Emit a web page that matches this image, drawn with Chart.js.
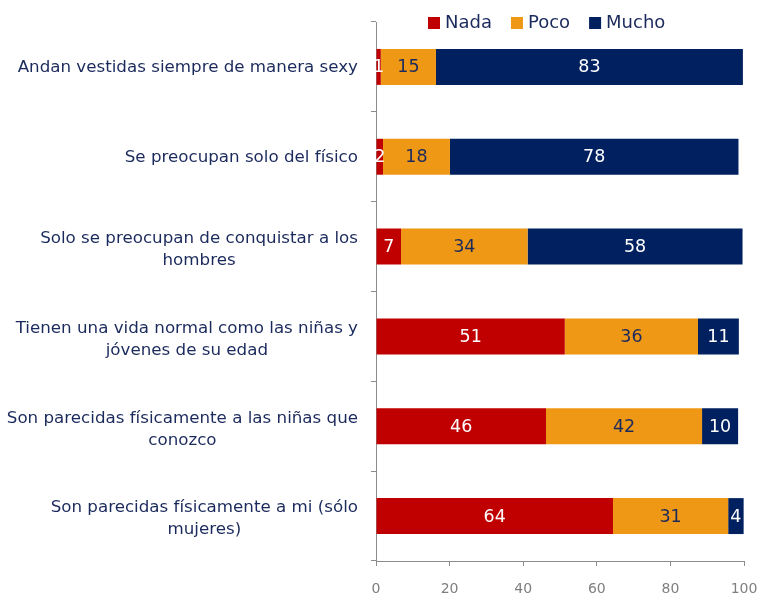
<!DOCTYPE html>
<html>
<head>
<meta charset="utf-8">
<script src="https://cdn.jsdelivr.net/npm/chart.js@4/dist/chart.umd.min.js"></script>
<style>
  html, body { margin: 0; padding: 0; background: #fff; }
  #wrap { width: 761px; height: 594px; }
</style>
</head>
<body>
<div id="wrap"><canvas id="c"></canvas></div>
<script>
const categories = [
  ['Andan vestidas siempre de manera sexy'],
  ['Se preocupan solo del físico'],
  ['Solo se preocupan de conquistar a los', 'hombres'],
  ['Tienen una vida normal como las niñas y', 'jóvenes de su edad'],
  ['Son parecidas físicamente a las niñas que', 'conozco'],
  ['Son parecidas físicamente a mi (sólo', 'mujeres)']
];
const nada = [1.3, 1.9, 6.8, 51.3, 46.2, 64.4];
const poco = [15.0, 18.2, 34.4, 36.2, 42.4, 31.3];
const mucho = [83.4, 78.4, 58.4, 11.1, 9.8, 4.2];
const xTicks = [0, 20, 40, 60, 80, 100];

const navy = '#1b2a5c';
const font = '"DejaVu Sans", sans-serif';

// bar value labels
const valueLabels = {
  id: 'valueLabels',
  afterDatasetsDraw(chart) {
    const ctx = chart.ctx;
    ctx.save();
    ctx.font = '17.5px ' + font;
    ctx.textAlign = 'center';
    ctx.textBaseline = 'middle';
    chart.data.datasets.forEach((ds, i) => {
      chart.getDatasetMeta(i).data.forEach((bar, j) => {
        const v = Math.round(ds.data[j]);
        ctx.fillStyle = ds.labelColor;
        const x = (bar.x + bar.base) / 2;
        ctx.fillText(String(v), x, bar.y + 1);
      });
    });
    ctx.restore();
  }
};

// category labels (block right aligned, lines centered) + legend
const sideText = {
  id: 'sideText',
  afterDraw(chart) {
    const ctx = chart.ctx;
    const y = chart.scales.y;
    ctx.save();
    ctx.font = '16.7px ' + font;
    ctx.fillStyle = navy;
    ctx.textBaseline = 'middle';
    ctx.textAlign = 'center';
    const right = y.right - 18;
    categories.forEach((lines, i) => {
      const w = Math.max(...lines.map(l => ctx.measureText(l).width));
      const cx = right - w / 2;
      const cy = y.getPixelForTick(i) + 1 + (lines.length - 1) * 2;
      const lh = 22;
      lines.forEach((l, k) => {
        ctx.fillText(l, cx, cy + (k - (lines.length - 1) / 2) * lh);
      });
    });
    // legend
    ctx.font = '18px ' + font;
    ctx.textAlign = 'left';
    let lx = 428;
    const ly = 23;
    chart.data.datasets.forEach(ds => {
      ctx.fillStyle = ds.backgroundColor;
      ctx.fillRect(lx, ly - 6, 12, 12);
      ctx.fillStyle = navy;
      ctx.fillText(ds.label, lx + 17, ly);
      lx += 17 + ctx.measureText(ds.label).width + 19;
    });
    ctx.restore();
  }
};

new Chart(document.getElementById('c'), {
  type: 'bar',
  data: {
    labels: categories.map(c => c.join(' ')),
    datasets: [
      { label: 'Nada', data: nada, backgroundColor: '#c00000', labelColor: '#ffffff' },
      { label: 'Poco', data: poco, backgroundColor: '#ee9816', labelColor: navy },
      { label: 'Mucho', data: mucho, backgroundColor: '#00205f', labelColor: '#ffffff' }
    ]
  },
  options: {
    indexAxis: 'y',
    responsive: true,
    maintainAspectRatio: false,
    animation: false,
    layout: { padding: { top: 22, right: 17, left: 0, bottom: 0 } },
    datasets: { bar: { categoryPercentage: 1, barPercentage: 0.4, borderWidth: 0 } },
    plugins: { legend: { display: false }, tooltip: { enabled: false } },
    scales: {
      x: {
        stacked: true,
        min: 0, max: 100,
        afterBuildTicks: s => { s.ticks = xTicks.map(v => ({ value: v })); },
        afterFit: s => { s.height = 33; s.paddingLeft = 0; s.paddingRight = 0; },
        border: { color: '#8c8c8c', width: 1 },
        grid: { drawOnChartArea: false, tickLength: 5, color: '#8c8c8c' },
        ticks: { color: '#7f7f7f', font: { size: 14, family: font }, padding: 15 }
      },
      y: {
        stacked: true,
        border: { color: '#8c8c8c', width: 1 },
        grid: { drawOnChartArea: false, offset: true, tickLength: 5, color: '#8c8c8c' },
        ticks: { display: false },
        afterFit: s => { s.width = 376; }
      }
    }
  },
  plugins: [valueLabels, sideText]
});
</script>
</body>
</html>
